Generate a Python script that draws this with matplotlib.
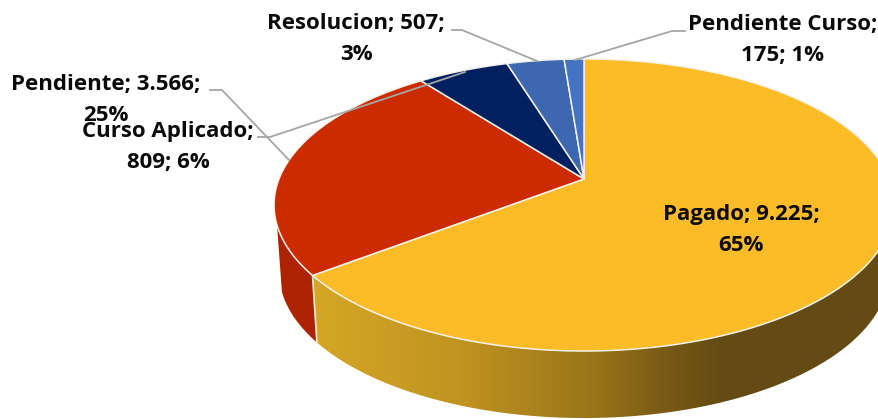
import numpy as np
import matplotlib
matplotlib.use("Agg")
import matplotlib.pyplot as plt
from matplotlib.patches import Polygon
from matplotlib.colors import LinearSegmentedColormap

categories = ["Pagado", "Pendiente", "Curso Aplicado", "Resolucion", "Pendiente Curso"]
values = [9225, 3566, 809, 507, 175]
value_labels = ["9.225", "3.566", "809", "507", "175"]
percent_labels = ["65%", "25%", "6%", "3%", "1%"]
colors = ["#FBBC28", "#CC2B00", "#002060", "#3D68B0", "#4472C4"]

label_texts = [
    "Pagado; 9.225;\n65%",
    "Pendiente; 3.566;\n25%",
    "Curso Aplicado;\n809; 6%",
    "Resolucion; 507;\n3%",
    "Pendiente Curso;\n175; 1%",
]
label_pos = [(741, 230), (106, 100), (168, 147), (356, 39), (783, 40)]
leaders = [
    None,
    [(210, 90), (222, 90), (289, 160)],
    [(258, 137), (270, 137), (465, 72)],
    [(452, 30), (462, 30), (537, 61)],
    [(685, 31), (672, 31), (575, 60)],
]

W, H = 879, 419
fig = plt.figure(figsize=(W / 100, H / 100), dpi=100)
ax = fig.add_axes([0, 0, 1, 1])
wedges, _ = ax.pie(values, startangle=90, counterclock=False)
angles = [(w.theta1, w.theta2) for w in wedges]
for w in wedges:
    w.remove()
ax.set_aspect("auto")

# perspective projection of the unit disc to the screen
CX, CY, A, B, K = 584.0, 179.0, 141.4, 305.0, 0.178
DEPTH, LOW_SCALE = 67.0, 305.0 / 310.0


def project(theta_deg):
    t = np.radians(theta_deg)
    x, y = np.cos(t), np.sin(t)
    d = 1 + K * y
    return CX + B * x / d, CY - A * y / d


def lower(px, py):
    return CX + (px - CX) * LOW_SCALE, py + DEPTH


def wall_polygon(t1, t2, min_y):
    th = np.linspace(t1, t2, 300)
    px, py = project(th)
    m = py >= min_y
    px, py = px[m], py[m]
    lx, ly = lower(px, py)
    return np.vstack([np.column_stack([px, py]), np.column_stack([lx, ly])[::-1]])


# side walls
red_wall = Polygon(wall_polygon(*angles[1], 225), closed=True, fc="#AD2300", ec="none", zorder=1)
ax.add_patch(red_wall)

gold_wall = Polygon(wall_polygon(*angles[0], 205), closed=True, fc="none", ec="none", zorder=2)
ax.add_patch(gold_wall)
wall_cmap = LinearSegmentedColormap.from_list(
    "wall",
    [(0.0, "#D6A625"), (0.30, "#C09420"), (0.58, "#9A7419"), (0.72, "#7A5B15"),
     (0.84, "#644B13"), (1.0, "#644B13")],
)
grad = np.linspace(0, 1, 600).reshape(1, -1)
im = ax.imshow(grad, cmap=wall_cmap, extent=(312, 800, H, 0), aspect="auto", zorder=2,
               interpolation="bilinear")
im.set_clip_path(gold_wall)
ax.imshow(np.array([[1.0]]), cmap=LinearSegmentedColormap.from_list("d", ["#644B13", "#644B13"]),
          extent=(800, W + 40, H, 0), aspect="auto", zorder=2).set_clip_path(gold_wall)

# white seam between the walls
sx, sy = project(angles[0][0])
lx, ly = lower(sx, sy)
ax.plot([sx, lx], [sy, ly], color="#F4EDE0", lw=1.2, zorder=3, solid_capstyle="butt")

# top surface
for (t1, t2), c in zip(angles, colors):
    th = np.linspace(t1, t2, 300)
    px, py = project(th)
    pts = np.vstack([[CX, CY], np.column_stack([px, py])])
    ax.add_patch(Polygon(pts, closed=True, fc=c, ec="#F5F2EA", lw=1.1, zorder=4, joinstyle="round"))

# leader lines
for pts in leaders:
    if pts:
        xs, ys = zip(*pts)
        ax.plot(xs, ys, color="#A6A6A6", lw=1.3, zorder=5)

# labels
for (x, y), t in zip(label_pos, label_texts):
    ax.text(x, y, t, ha="center", va="center", family="Open Sans", weight="bold",
            fontsize=16.0, color="#0A0A0A", linespacing=1.66, zorder=6)

ax.set_xlim(0, W)
ax.set_ylim(H, 0)
ax.axis("off")
fig.savefig("out.png", dpi=100, facecolor="white")
